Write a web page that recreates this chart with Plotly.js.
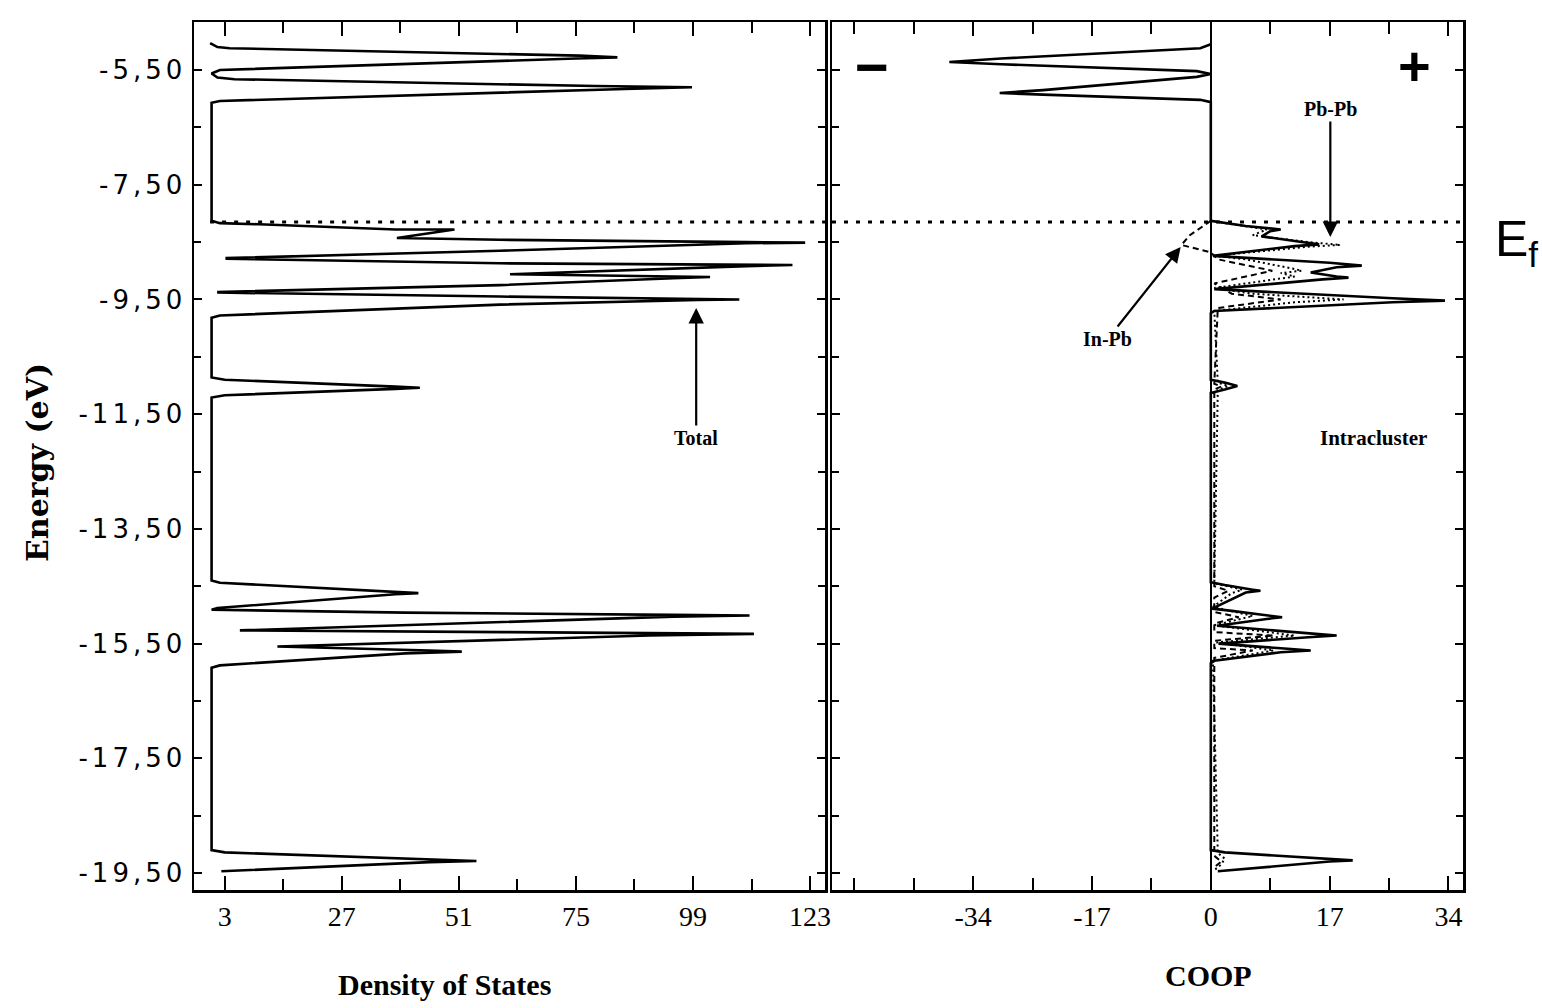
<!DOCTYPE html>
<html>
<head>
<meta charset="utf-8">
<script src="https://cdn.plot.ly/plotly-3.0.1.min.js"></script>
<style>
  html, body { margin: 0; padding: 0; background: #fff; }
  #chart { width: 1542px; height: 1008px; }
  .yaxislayer-above .ytick text { letter-spacing: 4px; }
</style>
</head>
<body>
<div id="chart"></div>
<script>
// ---------- Data ----------
// Total density of states (energy in eV, DOS in states)
const dosEnergy = [
  -5.03, -5.10, -5.12, -5.25, -5.28, -5.30, -5.50, -5.56, -5.63, -5.66, -5.78, -5.80, -5.83, -6.04, -6.07,
  -8.13, -8.17, -8.19, -8.28, -8.28, -8.43, -8.46, -8.50, -8.51, -8.52, -8.65, -8.78,
  -8.79, -8.87, -8.89, -8.90, -8.92, -9.06, -9.10, -9.11, -9.13, -9.25, -9.37,
  -9.38, -9.45, -9.49, -9.50, -9.51, -9.59, -9.78, -9.82,
  -10.86, -10.90, -11.02, -11.04, -11.06, -11.17, -11.21,
  -14.40, -14.44, -14.60, -14.62, -14.64, -14.88, -14.91,
  -14.96, -15.00, -15.01, -15.03, -15.27,
  -15.30, -15.33, -15.36, -15.55,
  -15.62, -15.64, -15.67, -15.88, -15.92,
  -19.10, -19.14, -19.27, -19.29, -19.31, -19.47
];
const dosValue = [
  0.0, 1.5, 4, 75.7, 83.5, 75, 2, 0.3, 1.5, 5, 79, 98.8, 85, 2, 0.3,
  0.3, 2, 10, 38, 50.1, 38.3, 59.4, 110, 122, 110, 59.4, 3.4,
  3.4, 59.4, 110, 119.4, 110, 61.5, 95, 102.5, 95, 59.4, 1.7,
  1.7, 59.4, 100, 108.5, 100, 59.4, 2, 0.3,
  0.3, 3, 38, 43, 38, 3, 0.3,
  0.3, 2, 38, 42.7, 38, 1.5, 0.3,
  40, 95, 110.6, 95, 6.1,
  60, 111.5, 90, 13.8,
  45, 51.6, 40, 2, 0.3,
  0.3, 3, 45, 54.6, 45, 2.3
];

// Intracluster COOP, total (solid)
const coopEnergy = [
  -5.05, -5.12, -5.30, -5.36, -5.40, -5.52, -5.57, -5.62, -5.85, -5.90, -5.93, -6.02, -6.06,
  -8.13, -8.22, -8.28, -8.31, -8.40, -8.50, -8.54, -8.57, -8.74, -8.86, -8.91, -8.94, -9.03, -9.10, -9.12, -9.15,
  -9.32, -9.48, -9.52, -9.55, -9.70, -9.74,
  -10.90, -10.95, -11.01, -11.07, -11.13,
  -14.43, -14.48, -14.56, -14.58, -14.61, -14.86, -14.89, -14.93, -15.02, -15.04, -15.07, -15.19,
  -15.33, -15.36, -15.39, -15.50, -15.59, -15.62, -15.65, -15.80, -15.84,
  -19.10, -19.14, -19.26, -19.28, -19.30, -19.45, -19.47
];
const coopTotal = [
  0, -1.5, -30, -37.4, -30, -2, 0, -2, -24, -30.2, -24, -1.5, 0,
  0, 5, 10.0, 8.5, 7.3, 13, 15.5, 12, 0.3, 17, 21.6, 18, 14.3, 18, 19.7, 16,
  0.5, 26, 33.5, 26, 0.5, 0,
  0, 2, 3.8, 2, 0,
  0, 2, 6, 7.1, 5, 0.5, 0.2, 3, 9, 10.2, 8, 0.9,
  15, 18.0, 14, 1.1, 11, 14.3, 10, 0.5, 0,
  0, 2, 17, 20.3, 17, 2, 1
];

// Pb-Pb COOP (dotted)
const pbpbEnergy = [
  -8.13, -8.28, -8.38, -8.50, -8.55, -8.58, -8.74, -8.80, -8.97, -9.00, -9.04, -9.10, -9.30, -9.40, -9.50, -9.55, -9.70,
  -10.95, -11.01, -11.08,
  -14.45, -14.56, -14.62, -14.86, -15.02, -15.18, -15.36, -15.48, -15.62, -15.80,
  -19.15, -19.25, -19.35, -19.45
];
const pbpbCoop = [
  0, 8, 6, 14, 18.5, 14, 0.5, 5, 12, 13, 10, 12, 0.5, 6, 19, 12, 0.5,
  1, 2.5, 1,
  0.5, 4.5, 3, 0.3, 6, 0.5, 12, 0.8, 9, 0.3,
  1, 2, 1.5, 0.5
];

// In-Pb COOP (dashed)
const inpbEnergy = [
  -8.13, -8.38, -8.55, -8.68, -8.80, -9.00, -9.22, -9.40, -9.50, -9.65,
  -10.97, -11.02, -11.07,
  -14.50, -14.58, -14.70, -14.95, -15.04, -15.15, -15.30, -15.36, -15.45, -15.58, -15.62, -15.75,
  -19.20, -19.30, -19.40
];
const inpbCoop = [
  0, -3, -4.2, 0, 1, 8.8, 0.5, 3, 10, 1,
  0.5, 1.5, 0.5,
  0.5, 2.5, 0.5, 0.5, 4, 0.5, 0.5, 9, 0.5, 0.5, 6, 0.5,
  0.5, 1.5, 0.5
];

const fermiEnergy = -8.15;

const energyTickVals = [-5.5, -7.5, -9.5, -11.5, -13.5, -15.5, -17.5, -19.5];
const energyTickText = ["-5,50", "-7,50", "-9,50", "-11,50", "-13,50", "-15,50", "-17,50", "-19,50"];
const dosTickVals = [3, 27, 51, 75, 99, 123];
const dosTickText = ["3", "27", "51", "75", "99", "123"];
const coopTickVals = [-34, -17, 0, 17, 34];
const coopTickText = ["-34", "-17", "0", "17", "34"];

// ---------- Traces ----------
const traces = [
  { x: dosValue, y: dosEnergy, xaxis: 'x', yaxis: 'y', mode: 'lines', name: 'Total',
    line: { color: '#000', width: 2.6 }, hoverinfo: 'skip' },
  { x: pbpbCoop, y: pbpbEnergy, xaxis: 'x2', yaxis: 'y2', mode: 'lines', name: 'Pb-Pb',
    line: { color: '#000', width: 2, dash: '2px,3px' }, hoverinfo: 'skip' },
  { x: inpbCoop, y: inpbEnergy, xaxis: 'x2', yaxis: 'y2', mode: 'lines', name: 'In-Pb',
    line: { color: '#000', width: 2, dash: '6px,4px' }, hoverinfo: 'skip' },
  { x: coopTotal, y: coopEnergy, xaxis: 'x2', yaxis: 'y2', mode: 'lines', name: 'Intracluster',
    line: { color: '#000', width: 2.6 }, hoverinfo: 'skip' }
];

const yRange = [-19.796, -4.663];
const xDom1 = [194 / 1542, 825 / 1542];
const xDom2 = [832 / 1542, 1463 / 1542];
const yDom = [1 - 890 / 1008, 1 - 22 / 1008];

const common = {
  showline: true, linecolor: '#000', linewidth: 2.5, mirror: 'ticks',
  ticks: 'inside', tickcolor: '#000', tickwidth: 2,
  showgrid: false, zeroline: false, fixedrange: true
};

const labelFont = { family: 'Liberation Serif', size: 20, color: '#000', weight: 'bold' };
const arrowStyle = { showarrow: true, arrowhead: 2, arrowsize: 1.4, arrowwidth: 2.2, arrowcolor: '#000',
  xanchor: 'center', yanchor: 'middle' };
const freeText = { xref: 'paper', yref: 'paper', showarrow: false, xanchor: 'center', yanchor: 'middle' };

const layout = {
  width: 1542, height: 1008,
  margin: { l: 0, r: 0, t: 0, b: 0 },
  paper_bgcolor: '#fff', plot_bgcolor: '#fff',
  showlegend: false,
  xaxis: Object.assign({}, common, {
    domain: xDom1, range: [-3.305, 126.07], anchor: 'y',
    tickmode: 'array', tickvals: dosTickVals, ticktext: dosTickText, ticklen: 14,
    tickfont: { family: 'Liberation Serif', size: 28, color: '#000' },
    minor: { ticks: 'inside', tick0: 3, dtick: 12, ticklen: 11, tickwidth: 2, tickcolor: '#000' }
  }),
  yaxis: Object.assign({}, common, {
    domain: yDom, range: yRange, anchor: 'x',
    tickmode: 'array', tickvals: energyTickVals, ticktext: energyTickText, ticklen: 8,
    tickfont: { family: 'DejaVu Sans', size: 26, color: '#000' },
    minor: { ticks: 'inside', tick0: -5.5, dtick: 1, ticklen: 7, tickwidth: 2, tickcolor: '#000' }
  }),
  xaxis2: Object.assign({}, common, {
    domain: xDom2, range: [-54.19, 36.08], anchor: 'y2',
    tickmode: 'array', tickvals: coopTickVals, ticktext: coopTickText, ticklen: 14,
    tickfont: { family: 'Liberation Serif', size: 28, color: '#000' },
    zeroline: true, zerolinecolor: '#000', zerolinewidth: 2.5,
    minor: { ticks: 'inside', tick0: 0, dtick: 8.5, ticklen: 12, tickwidth: 2, tickcolor: '#000' }
  }),
  yaxis2: Object.assign({}, common, {
    domain: yDom, range: yRange, anchor: 'x2', matches: 'y',
    tickmode: 'array', tickvals: energyTickVals, ticklen: 8, showticklabels: false,
    minor: { ticks: 'inside', tick0: -5.5, dtick: 1, ticklen: 7, tickwidth: 2, tickcolor: '#000' }
  }),
  shapes: [
    { type: 'line', xref: 'x', yref: 'y', x0: 0, x1: 126.07, y0: fermiEnergy, y1: fermiEnergy,
      line: { color: '#000', width: 3, dash: '4px,8px' } },
    { type: 'line', xref: 'x2 domain', yref: 'y2', x0: 0, x1: 1, y0: fermiEnergy, y1: fermiEnergy,
      line: { color: '#000', width: 3, dash: '4px,8px' } }
  ],
  annotations: [
    Object.assign({}, freeText, { text: 'Energy (eV)', x: 38 / 1542, y: 1 - 463 / 1008, textangle: -90,
      font: { family: 'DejaVu Serif', size: 30, color: '#000', weight: 'bold' } }),
    Object.assign({}, freeText, { text: 'Density of States', x: 445 / 1542, y: 1 - 984 / 1008,
      font: { family: 'Liberation Serif', size: 30, color: '#000', weight: 'bold' } }),
    Object.assign({}, freeText, { text: 'COOP', x: 1208 / 1542, y: 1 - 975 / 1008,
      font: { family: 'Liberation Serif', size: 30, color: '#000', weight: 'bold' } }),
    Object.assign({}, arrowStyle, { text: 'Total', xref: 'x', yref: 'y', x: 99.66, y: -9.649, ax: 0, ay: 130,
      font: labelFont }),
    Object.assign({}, arrowStyle, { text: 'Pb-Pb', xref: 'x2', yref: 'y2', x: 17.1, y: -8.41, ax: 0, ay: -128,
      font: labelFont }),
    Object.assign({}, arrowStyle, { text: 'In-Pb', xref: 'x2', yref: 'y2', x: -4.31, y: -8.586, ax: -73, ay: 92,
      font: labelFont }),
    Object.assign({}, freeText, { text: 'Intracluster', x: 1373 / 1542, y: 1 - 438 / 1008,
      font: { family: 'Liberation Serif', size: 21, color: '#000', weight: 'bold' } }),
    Object.assign({}, freeText, { text: '\u2212', x: 872 / 1542, y: 1 - 67 / 1008,
      font: { family: 'Liberation Sans', size: 58, color: '#000', weight: 'bold' } }),
    Object.assign({}, freeText, { text: '+', x: 1414 / 1542, y: 1 - 66 / 1008,
      font: { family: 'Liberation Sans', size: 56, color: '#000', weight: 'bold' } }),
    Object.assign({}, freeText, { text: 'E<sub>f</sub>', x: 1516 / 1542, y: 1 - 242 / 1008,
      font: { family: 'Liberation Sans', size: 50, color: '#000' } })
  ]
};

Plotly.newPlot('chart', traces, layout, { staticPlot: true, displayModeBar: false });
</script>
</body>
</html>
